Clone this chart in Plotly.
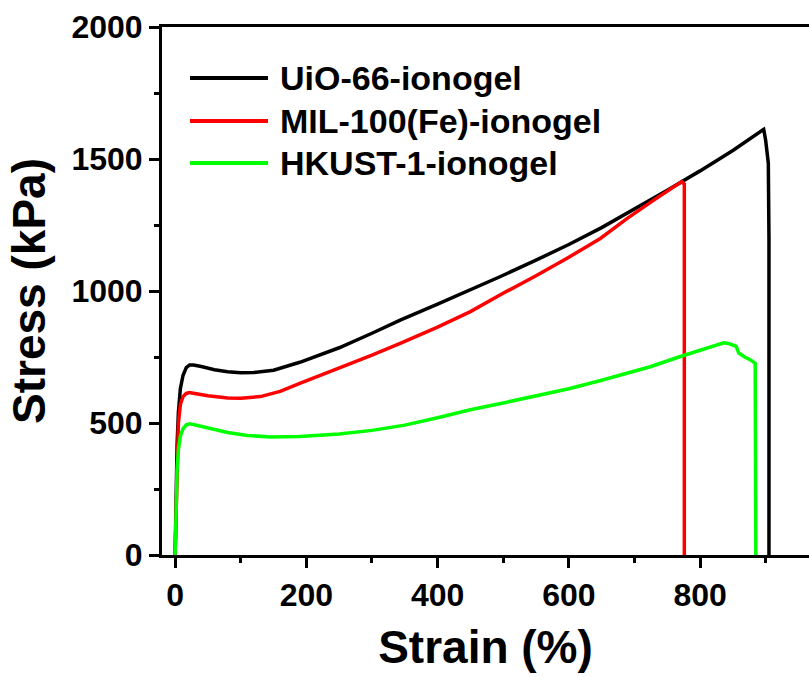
import plotly.graph_objects as go

# ---- data ----
uio_strain = [0, 1, 2, 3, 5, 8, 12, 17, 22, 28, 40, 60, 80, 100, 120, 150, 190, 250, 300, 343,
              400, 450, 495, 550, 600, 650, 700, 750, 800, 850, 897, 900, 904, 905, 905]
uio_stress = [0, 150, 300, 420, 540, 630, 680, 710, 720, 720, 714, 702, 694, 690, 691, 700, 730, 785, 840, 890,
              950, 1003, 1054, 1117, 1176, 1240, 1310, 1382, 1455, 1532, 1612, 1570, 1484, 1200, 0]

mil_strain = [0, 1, 2, 3, 5, 8, 12, 17, 22, 30, 50, 80, 100, 130, 160, 190, 250, 300, 343,
              400, 450, 495, 550, 600, 648, 689, 730, 750, 760, 772, 776, 776]
mil_stress = [0, 130, 260, 380, 500, 570, 600, 612, 615, 612, 603, 595, 594, 600, 620, 650, 708, 757, 802,
              863, 922, 985, 1058, 1128, 1199, 1275, 1345, 1380, 1395, 1414, 1405, 0]

hk_strain = [0, 1, 2, 3, 5, 8, 12, 17, 23, 30, 50, 80, 110, 145, 190, 250, 300, 350, 400, 450,
             500, 550, 600, 650, 700, 724, 770, 800, 836, 845, 855, 859, 868, 877, 884, 885]
hk_stress = [0, 120, 230, 320, 400, 450, 478, 493, 497, 493, 480, 464, 453, 447, 449, 458, 472, 492, 520, 550,
             576, 602, 630, 662, 695, 713, 752, 775, 804, 800, 790, 765, 750, 739, 726, 0]

names = ["UiO-66-ionogel", "MIL-100(Fe)-ionogel", "HKUST-1-ionogel"]
colors = ["#000000", "#FF0000", "#00FF00"]
series = [(uio_strain, uio_stress), (mil_strain, mil_stress), (hk_strain, hk_stress)]

x_ticks = [0, 200, 400, 600, 800]
y_ticks = [0, 500, 1000, 1500, 2000]

# ---- layout geometry ----
W, H = 809, 677
L, R, T, B = 162, 0, 27, 122
pw, ph = W - L - R, H - T - B

FONT = "Liberation Sans, Arial, sans-serif"

fig = go.Figure()
for (xs, ys), name, col in zip(series, names, colors):
    fig.add_trace(go.Scatter(x=xs, y=ys, mode="lines", name=name,
                             line=dict(color=col, width=3.5), showlegend=False))

# custom legend (long line samples)
leg_rows_px = [78, 121, 163]
for name, col, py in zip(names, colors, leg_rows_px):
    yp = (H - B - py) / ph
    fig.add_shape(type="line", xref="paper", yref="paper",
                  x0=(190 - L) / pw, x1=(268 - L) / pw, y0=yp, y1=yp,
                  line=dict(color=col, width=4))
    fig.add_annotation(xref="paper", yref="paper", x=(278 - L) / pw, y=yp,
                       xanchor="left", yanchor="middle", showarrow=False, text=name,
                       font=dict(family=FONT, size=34, color="black", weight="bold"))

axis_common = dict(showline=True, linecolor="black", linewidth=3, ticks="outside",
                   ticklen=10, tickwidth=3, tickcolor="black", showgrid=False, zeroline=False,
                   tickfont=dict(family=FONT, size=32, color="black", weight="bold"))

fig.update_xaxes(range=[-20, 966], tickvals=x_ticks, mirror=True,
                 minor=dict(dtick=100, ticks="outside", ticklen=5, tickwidth=3, tickcolor="black", showgrid=False),
                 title=dict(text="Strain (%)", standoff=19,
                            font=dict(family=FONT, size=46, color="black", weight="bold")),
                 **axis_common)
fig.update_yaxes(range=[0, 2000], tickvals=y_ticks,
                 minor=dict(dtick=250, ticks="outside", ticklen=5, tickwidth=3, tickcolor="black", showgrid=False),
                 title=dict(text="Stress (kPa)", standoff=12,
                            font=dict(family=FONT, size=46, color="black", weight="bold")),
                 **axis_common)

fig.update_layout(width=W, height=H, margin=dict(l=L, r=R, t=T, b=B, autoexpand=False),
                  plot_bgcolor="white", paper_bgcolor="white")

fig.write_html("out.html")
